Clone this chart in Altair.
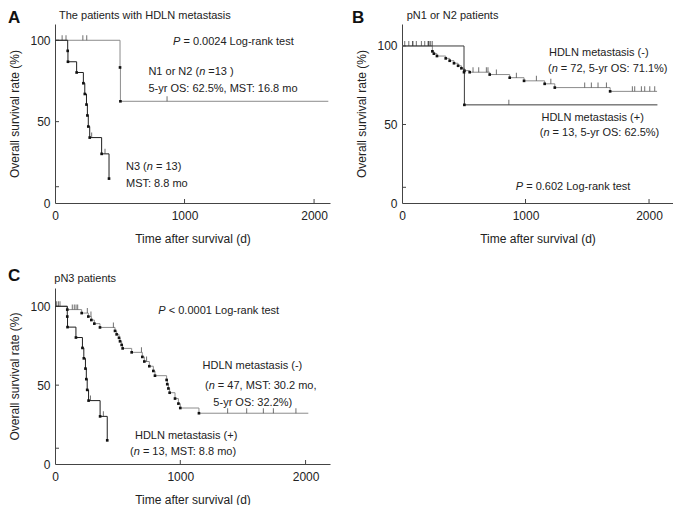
import altair as alt
import pandas as pd

# ---------------- values ----------------
# HDLN metastasis (+), pN3 (n = 13): event day / survival % after event
n3_event_days = [98, 100, 167, 219, 230, 243, 250, 257, 268, 360, 417]
n3_event_surv = [93.5, 86.8, 80.2, 73.6, 67.0, 60.5, 53.8, 47.0, 40.2, 30.2, 15.0]
n3_censor_days = [283, 386]

# HDLN metastasis (+), pN1 or N2 (n = 13)
n12_event_days = [502, 505]
n12_event_surv = [83.3, 62.5]
n12_censor_days = [55, 85, 215, 245, 865]
a_n12_end = 2110
b_pos_end = 2068

# HDLN metastasis (-), pN1 or N2 (n = 72)
b_neg_event_days = [246, 258, 283, 354, 386, 421, 454, 481, 505, 548, 710, 872, 988, 1155, 1237, 1685]
b_neg_event_surv = [96.6, 95.1, 93.6, 92.1, 90.6, 89.0, 87.4, 85.8, 84.3, 83.3, 81.8, 79.8, 77.8, 75.9, 73.5, 71.1]
b_neg_censor_days = [22, 89, 116, 157, 184, 211, 219, 232, 575, 621, 683, 696, 764, 926, 1088, 1205,
                     1479, 1533, 1587, 1655, 1865, 1884, 1938, 1965, 2006, 2046]
b_neg_end = 2065

# HDLN metastasis (-), pN3 (n = 47)
c_neg_event_days = [98, 213, 266, 290, 314, 359, 479, 492, 511, 519, 532, 540, 612, 697, 713, 753, 785, 798,
                    891, 896, 905, 915, 958, 985, 1000, 1149]
c_neg_event_surv = [97.9, 95.7, 93.5, 91.3, 89.0, 86.6, 84.4, 82.2, 80.0, 77.8, 75.5, 73.3, 70.8, 67.9, 65.0,
                    62.0, 59.0, 56.0, 53.3, 50.6, 47.9, 45.2, 41.5, 38.3, 35.5, 32.2]
c_neg_censor_days = [13, 27, 40, 138, 154, 168, 181, 258, 287, 466, 690, 731, 1378, 1530, 1663, 1743, 1923]
c_neg_end = 2022

x_tick_values = [0, 1000, 2000]
y_tick_values = [0, 10, 50, 100]
x_title = "Time after survival (d)"
y_title = "Overall survival rate (%)"
panel_letters = ["A", "B", "C"]
panel_titles = ["The patients with HDLN metastasis", "pN1 or N2 patients", "pN3 patients"]

annot_a = [
    ([("P", True), (" = 0.0024 Log-rank test", False)], 911, 99.0),
    ([("N1 or N2 (", False), ("n", True), (" =13 )", False)], 721, 80.7),
    ([("5-yr OS: 62.5%, MST: 16.8 mo", False)], 721, 69.9),
    ([("N3 (", False), ("n", True), (" = 13)", False)], 548, 22.3),
    ([("MST: 8.8 mo", False)], 548, 11.9),
]
annot_b = [
    ([("HDLN metastasis (-)", False)], 1190, 95.7),
    ([("(", False), ("n", True), (" = 72, 5-yr OS: 71.1%)", False)], 1182, 85.1),
    ([("HDLN metastasis (+)", False)], 1129, 54.2),
    ([("(", False), ("n", True), (" = 13, 5-yr OS: 62.5%)", False)], 1115, 44.3),
    ([("P", True), (" = 0.602 Log-rank test", False)], 921, 10.0),
]
annot_c = [
    ([("P", True), (" < 0.0001 Log-rank test", False)], 825, 97.2),
    ([("HDLN metastasis (-)", False)], 1178, 62.3),
    ([("(", False), ("n", True), (" = 47, MST: 30.2 mo,", False)], 1197, 49.7),
    ([("5-yr OS: 32.2%)", False)], 1264, 38.7),
    ([("HDLN metastasis (+)", False)], 638, 18.0),
    ([("(", False), ("n", True), (" = 13, MST: 8.8 mo)", False)], 599, 7.4),
]

# ---------------- styling ----------------
FONT = "Liberation Sans"
FS = 11
AXFS = 12
TXT = "#222222"
AX = "#444444"
GRAY = "#8c8c8c"
DARK = "#1e1e1e"
CHAR_W = {"N": .722, "1": .556, " ": .278, "o": .556, "r": .333, "2": .556,
          "(": .333, "3": .556, "P": .667, "n": .556}


def level_at(ev_t, ev_s, t):
    s = 100.0
    for et, es in zip(ev_t, ev_s):
        if et <= t:
            s = es
    return s


def curve_layers(ev_t, ev_s, cens_t, end, color, X, Y):
    pts = [(0, 100.0)] + list(zip(ev_t, ev_s))
    if end is not None:
        pts.append((end, ev_s[-1]))
    line_df = pd.DataFrame({"t": [p[0] for p in pts], "s": [p[1] for p in pts],
                            "o": list(range(len(pts)))})
    ev_df = pd.DataFrame({"t": ev_t, "s": ev_s})
    ce_df = pd.DataFrame({"t": cens_t, "s": [level_at(ev_t, ev_s, c) for c in cens_t]})
    line = alt.Chart(line_df).mark_line(interpolate="step-after", color=color, strokeWidth=1).encode(
        x=X, y=Y, order="o:Q")
    dots = alt.Chart(ev_df).mark_square(size=7, color="#111111", opacity=1).encode(x=X, y=Y)
    cens = alt.Chart(ce_df).mark_tick(orient="vertical", size=5, thickness=1, color="#333333",
                                      yOffset=-2.5).encode(x=X, y=Y)
    return [line, dots, cens]


def rich_text(segments, t, s, X, Y):
    layers = []
    dx = 0.0
    for txt, ital in segments:
        stripped = txt.lstrip(" ")
        dx += (len(txt) - len(stripped)) * CHAR_W[" "] * FS
        df = pd.DataFrame({"t": [t], "s": [s], "label": [stripped]})
        layers.append(alt.Chart(df).mark_text(
            align="left", baseline="middle", dx=dx, font=FONT, fontSize=FS,
            fontStyle="italic" if ital else "normal", color=TXT).encode(x=X, y=Y, text="label:N"))
        dx += sum(CHAR_W.get(c, 0.556) for c in stripped) * FS
    return layers


def panel(idx, W, H, XMAX, YMAX, curves, annots, letter_pos, title_pos):
    x_axis = alt.Axis(values=x_tick_values, format="d", title=x_title, ticks=False, labelPadding=7,
                      labelFlush=False, labelOverlap=False, grid=False, domainColor=AX,
                      titleX=W / 2, titleY=35, titleBaseline="middle", titleAlign="center")
    y_axis = alt.Axis(values=y_tick_values, title=y_title, ticks=False, labelPadding=5,
                      labelExpr="datum.value === 10 ? '' : datum.label",
                      labelOverlap=False, grid=False, domainColor=AX,
                      titleX=-41, titleY=H / 2, titleBaseline="middle", titleAlign="center",
                      titleAngle=270)
    X = alt.X("t:Q", scale=alt.Scale(domain=[0, XMAX], nice=False, zero=False), axis=x_axis)
    Y = alt.Y("s:Q", scale=alt.Scale(domain=[0, YMAX], nice=False, zero=False), axis=y_axis)

    layers = []
    # inward axis ticks
    layers.append(alt.Chart(pd.DataFrame({"t": x_tick_values[1:]})).mark_rule(
        color=AX, strokeWidth=1).encode(x=X, y=alt.value(H), y2=alt.value(H - 4)))
    layers.append(alt.Chart(pd.DataFrame({"s": y_tick_values[1:]})).mark_rule(
        color=AX, strokeWidth=1).encode(y=Y, x=alt.value(0), x2=alt.value(4)))
    for c in curves:
        layers += curve_layers(*c, X, Y)
    for segs, t, s in annots:
        layers += rich_text(segs, t, s, X, Y)
    layers.append(alt.Chart(pd.DataFrame({"label": [panel_letters[idx]]})).mark_text(
        align="left", baseline="alphabetic", font=FONT, fontSize=17, fontWeight="bold",
        color="#111111").encode(x=alt.value(letter_pos[0]), y=alt.value(letter_pos[1]),
                                text="label:N"))
    layers.append(alt.Chart(pd.DataFrame({"label": [panel_titles[idx]]})).mark_text(
        align="left", baseline="middle", font=FONT, fontSize=FS, color=TXT).encode(
        x=alt.value(title_pos[0]), y=alt.value(title_pos[1]), text="label:N"))
    return alt.layer(*layers).properties(width=W, height=H)


pA = panel(0, 275, 179, 2123, 110,
           [(n12_event_days, n12_event_surv, n12_censor_days, a_n12_end, GRAY),
            (n3_event_days, n3_event_surv, n3_censor_days, None, DARK)],
           annot_a, (-47, -1.5), (4, -8))
pB = panel(1, 271, 179, 2194, 114,
           [(b_neg_event_days, b_neg_event_surv, b_neg_censor_days, b_neg_end, GRAY),
            (n12_event_days, n12_event_surv, n12_censor_days, b_pos_end, "#3a3a3a")],
           annot_b, (-50, -1.5), (4.7, -8))
pC = panel(2, 275, 176, 2195, 111.6,
           [(c_neg_event_days, c_neg_event_surv, c_neg_censor_days, c_neg_end, GRAY),
            (n3_event_days, n3_event_surv, n3_censor_days, None, DARK)],
           annot_c, (-47, -7), (-0.7, -8.7))

chart = alt.concat(pA, pB, pC, columns=2, spacing={"row": 85, "column": 72},
                   bounds="flush").properties(
    padding=0
).configure_view(stroke=None).configure_axis(
    labelFont=FONT, titleFont=FONT, labelFontSize=AXFS, titleFontSize=AXFS,
    titleFontWeight="normal", labelColor=TXT, titleColor=TXT
)

chart.save("out.html", embed_options={"renderer": "svg", "actions": False})
